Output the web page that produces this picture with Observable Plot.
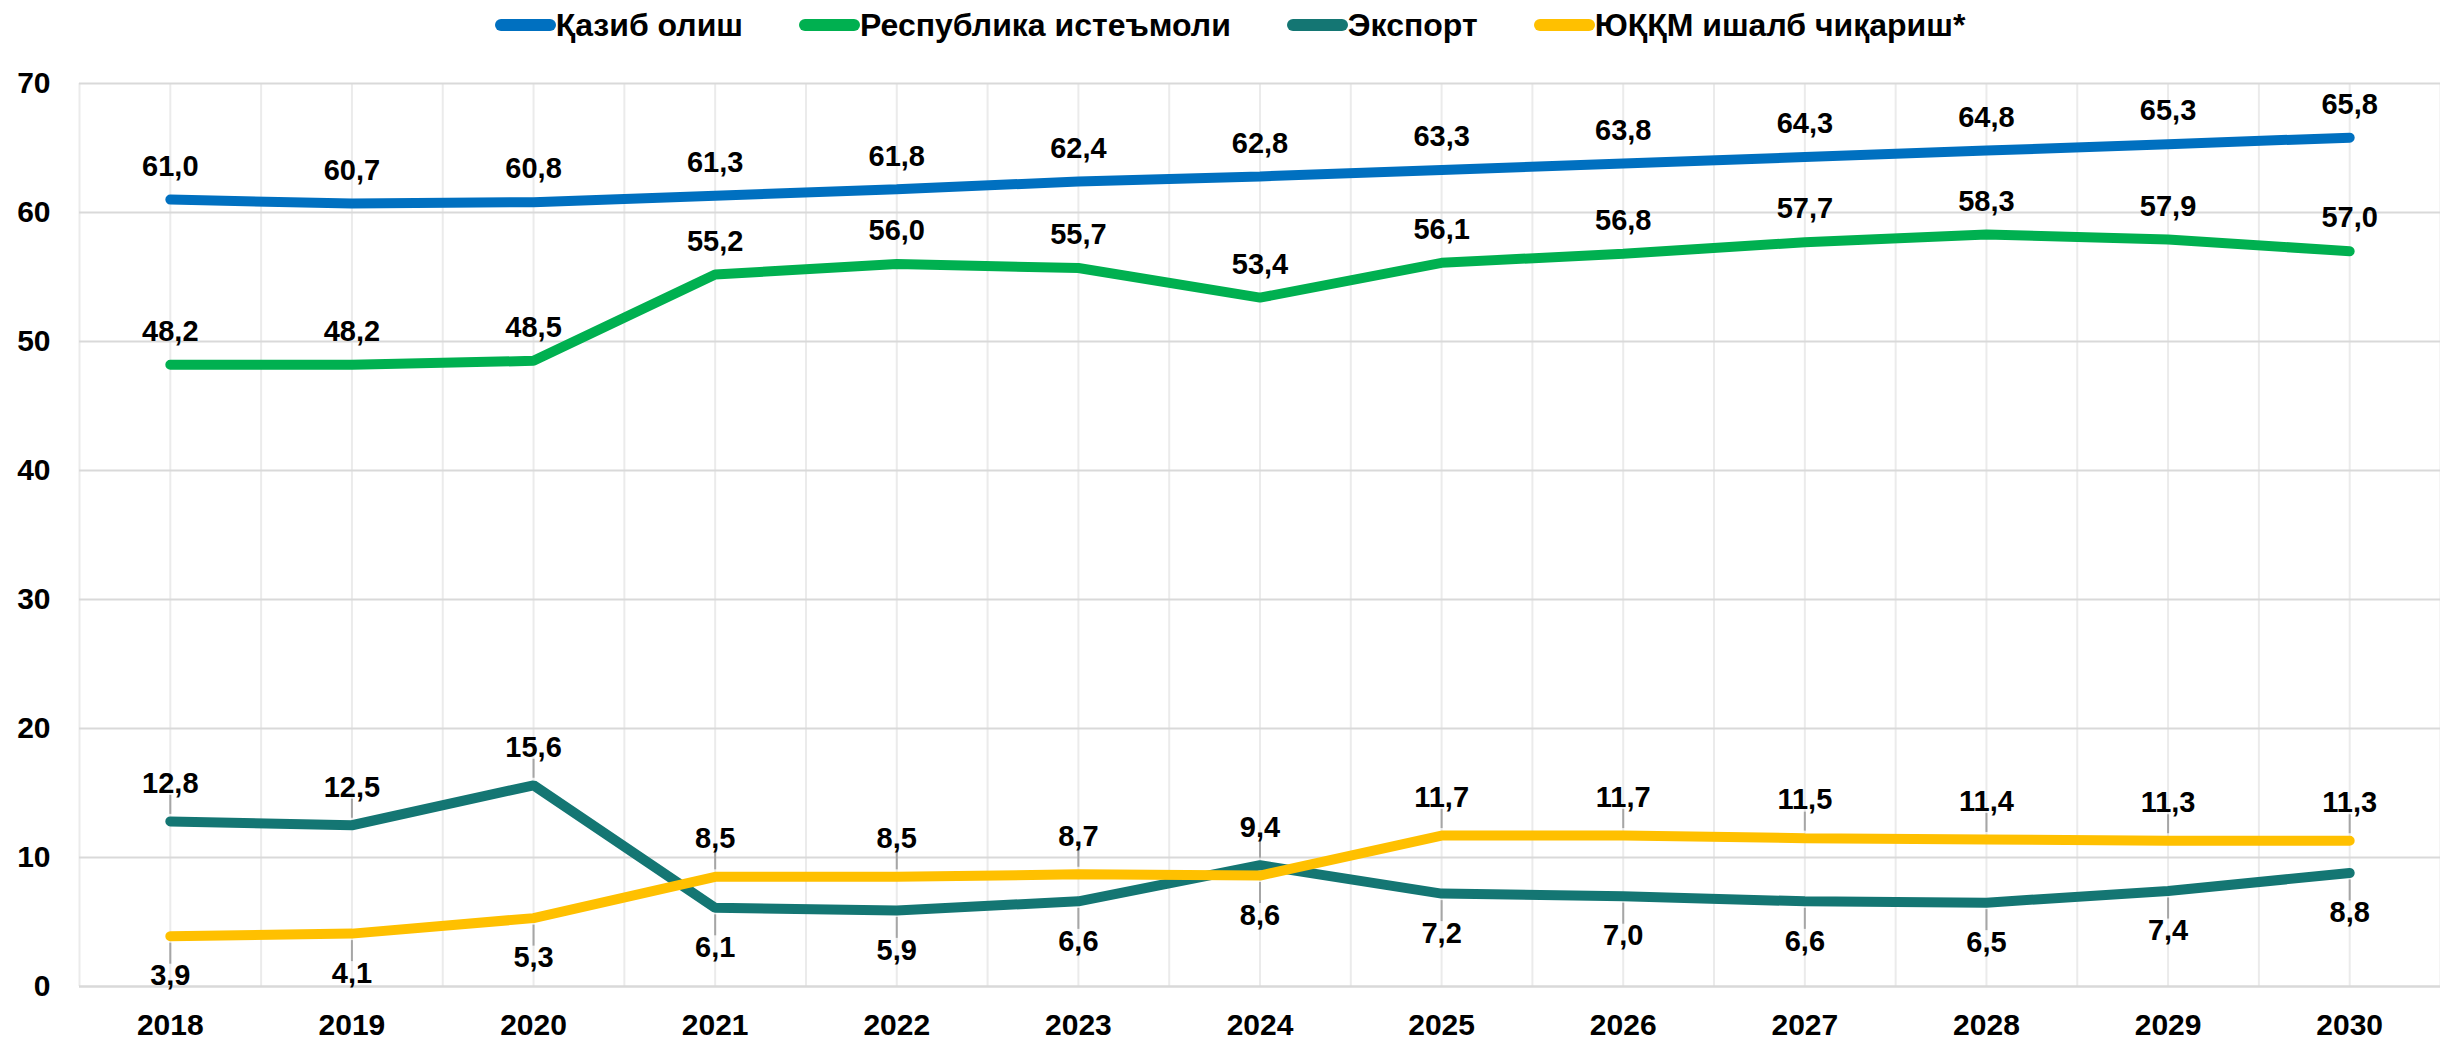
<!DOCTYPE html>
<html>
<head>
<meta charset="utf-8">
<script src="https://cdn.jsdelivr.net/npm/d3@7"></script>
<script src="https://cdn.jsdelivr.net/npm/@observablehq/plot@0.6"></script>
<style>
  html, body { margin: 0; padding: 0; background: #fff; }
  body { width: 2440px; height: 1044px; overflow: hidden; font-family: "Liberation Sans", Arial, sans-serif; }
  #legend { height: 50px; display: flex; align-items: center; justify-content: center; padding-left: 20px; gap: 56px; }
  .item { display: flex; align-items: center; font-size: 32px; font-weight: bold; color: #000; }
  .sw { width: 61px; height: 12px; border-radius: 6px; }
</style>
</head>
<body>
<div id="legend"></div>
<div id="chart"></div>
<script>
const years = [2018, 2019, 2020, 2021, 2022, 2023, 2024, 2025, 2026, 2027, 2028, 2029, 2030];
const seriesNames = ["Қазиб олиш", "Республика истеъмоли", "Экспорт", "ЮҚҚМ ишалб чиқариш*"];
const seriesColors = ["#0070C0", "#00B050", "#147673", "#FFC000"];
const extraction = [61.0, 60.7, 60.8, 61.3, 61.8, 62.4, 62.8, 63.3, 63.8, 64.3, 64.8, 65.3, 65.8];
const consumption = [48.2, 48.2, 48.5, 55.2, 56.0, 55.7, 53.4, 56.1, 56.8, 57.7, 58.3, 57.9, 57.0];
const exportVals = [12.8, 12.5, 15.6, 6.1, 5.9, 6.6, 9.4, 7.2, 7.0, 6.6, 6.5, 7.4, 8.8];
const production = [3.9, 4.1, 5.3, 8.5, 8.5, 8.7, 8.6, 11.7, 11.7, 11.5, 11.4, 11.3, 11.3];
const yTicks = [0, 10, 20, 30, 40, 50, 60, 70];

const valuesBySeries = [extraction, consumption, exportVals, production];
const data = [];
seriesNames.forEach((s, i) => years.forEach((y, j) => data.push({series: s, idx: i, year: y, value: valuesBySeries[i][j]})));

const fmt = v => d3.format(".1f")(v).replace(".", ",");

// Lower two series: higher one labelled above, lower one below
const lowerAbove = [], lowerBelow = [];
years.forEach((y, j) => {
  const a = {series: seriesNames[2], year: y, value: exportVals[j]};
  const b = {series: seriesNames[3], year: y, value: production[j]};
  if (a.value >= b.value) { lowerAbove.push(a); lowerBelow.push(b); }
  else { lowerAbove.push(b); lowerBelow.push(a); }
});
const upper = data.filter(d => d.idx < 2);

const W = 2440, H = 994, mT = 33, mB = 58, mL = 79, mR = 0;
const unitPerPx = 70 / (H - mT - mB);
const offAbove = 38, offBelow = 40, lineGap = 7, labelHalf = 12;

const legend = document.getElementById("legend");
seriesNames.forEach((s, i) => {
  const it = document.createElement("div");
  it.className = "item";
  it.innerHTML = `<div class="sw" style="background:${seriesColors[i]}"></div><span>${s}</span>`;
  legend.appendChild(it);
});

const halfYears = d3.range(2017.5, 2030.51, 0.5);

const chart = Plot.plot({
  width: W, height: H,
  marginTop: mT, marginBottom: mB, marginLeft: mL, marginRight: mR,
  style: {fontFamily: '"Liberation Sans", Arial, sans-serif', fontSize: "30px", fontWeight: "bold", color: "#000", background: "#fff"},
  x: {domain: [2017.5, 2030.5]},
  y: {domain: [0, 70]},
  color: {domain: seriesNames, range: seriesColors},
  marks: [
    Plot.ruleX(halfYears, {stroke: "#ebebeb", strokeWidth: 2}),
    Plot.ruleY(yTicks.filter(t => t > 0), {stroke: "#d9d9d9", strokeWidth: 2}),
    Plot.ruleY([0], {stroke: "#d9d9d9", strokeWidth: 2.5}),
    Plot.axisX(years, {tickSize: 0, tickPadding: 27, tickFormat: d => String(d), label: null, fontSize: 30, fontWeight: "bold"}),
    Plot.axisY(yTicks, {tickSize: 0, tickPadding: 29, label: null, fontSize: 30, fontWeight: "bold"}),
    // leader lines
    Plot.ruleX(lowerAbove, {x: "year", y1: d => d.value + lineGap * unitPerPx, y2: d => d.value + (offAbove - labelHalf) * unitPerPx, stroke: "#a6a6a6", strokeWidth: 2}),
    Plot.ruleX(lowerBelow, {x: "year", y1: d => d.value - lineGap * unitPerPx, y2: d => d.value - (offBelow - labelHalf) * unitPerPx, stroke: "#a6a6a6", strokeWidth: 2}),
    Plot.line(data, {x: "year", y: "value", z: "series", stroke: "series", strokeWidth: 10, strokeLinecap: "round", strokeLinejoin: "miter"}),
    Plot.text(upper, {x: "year", y: "value", text: d => fmt(d.value), dy: -33, fontSize: 29, fontWeight: "bold", fill: "#000"}),
    Plot.text(lowerAbove, {x: "year", y: "value", text: d => fmt(d.value), dy: -offAbove, fontSize: 29, fontWeight: "bold", fill: "#000"}),
    Plot.text(lowerBelow, {x: "year", y: "value", text: d => fmt(d.value), dy: offBelow, fontSize: 29, fontWeight: "bold", fill: "#000"})
  ]
});
document.getElementById("chart").appendChild(chart);
</script>
</body>
</html>
